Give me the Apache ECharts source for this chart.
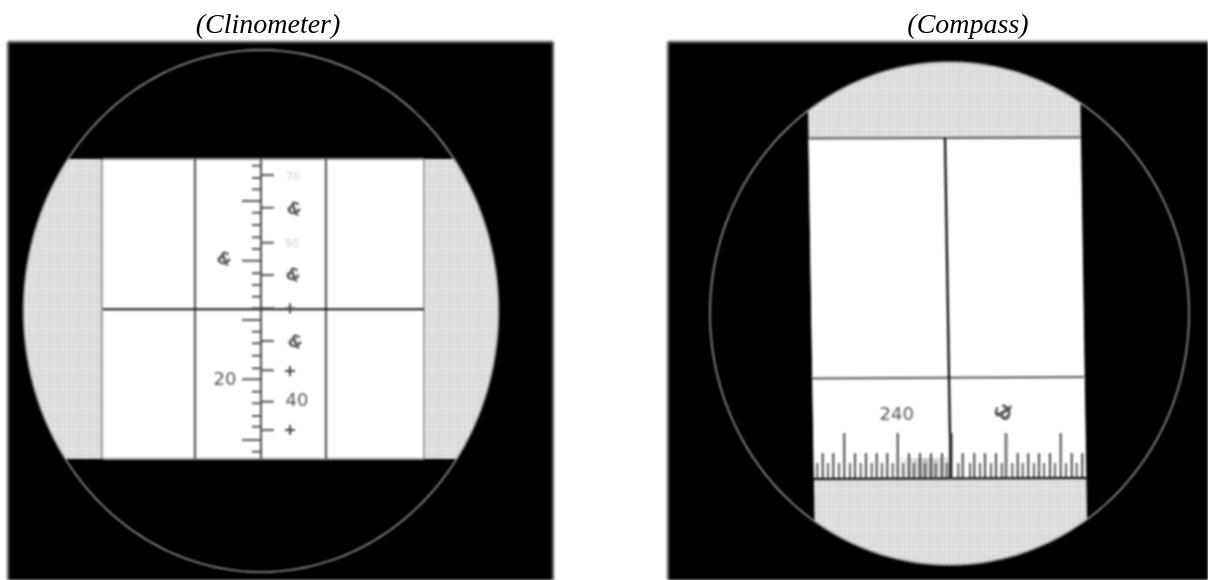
<!DOCTYPE html>
<html><head><meta charset="utf-8">
<script src="https://cdn.jsdelivr.net/npm/echarts@6/dist/echarts.min.js"></script>
<style>html,body{margin:0;padding:0;background:#fff;width:1208px;height:580px;overflow:hidden}
#art,#cap{position:absolute;left:0;top:0;width:1208px;height:580px}
#art{filter:blur(0.9px)}</style></head><body>
<div id="art"></div><div id="cap"></div>
<script>
// ---- values (image units on both axes)
const titles = [["(Clinometer)",268,26],["(Compass)",968,26]];
const clinoPanel = [[8,42],[553,42],[553,582],[8,582]];
const compassPanel = [[668,42],[1212,42],[1212,582],[668,582]];
const clinoDisc = [261,311,237.5,261];
const compassDisc = [949.5,313.5,239.5,251.5];
const clinoMasks = [[[8,42],[553,42],[553,159],[8,159]],[[8,459],[553,459],[553,582],[8,582]]];
const compassMasks = [[[668,42],[807,42],[815.5,582],[668,582]],[[1079.5,42],[1212,42],[1212,582],[1088,582]]];
const clinoWhite = [[103,159],[424,159],[424,459],[103,459]];
const compassWhite = [[808.5,138.5],[1080.5,137.5],[1086,478.5],[814,479.5]];
const frameEdges = [[8,42,553,42],[8,42,8,582],[553,42,553,582],[668,42,1212,42],[668,42,668,582]];
const clinoRules = [[195,159,195,459],[326,159,326,459],[261,159,261,459],[103,309.3,424,309.3]];
const clinoEdges = [[103,159,424,159],[103,459,424,459],[102,159,102,459],[424,159,424,459]];
const clinoMinorY = [165.7,178,189.3,212.7,225,237.3,249,273.3,285,296.7,308.3,331.7,343.3,355.7,368.3,391.7,403.3,416,426.7,451.7];
const clinoMajorY = [201,260.7,320,379.3,440];
const clinoRightY = [175,207.7,242.7,275,308.3,341,370.3,401.7,430];
const clinoPlus = [[290,308.5],[290,371],[290,430]];
const clinoLabels = [["20",225,380.7,18,"#555",0],["40",297,401.7,18,"#555",0],["70",293,177,11,"#ccc",0],["50",292,244,11,"#ccc",0]];
const clinoBlobs = [[294,210],[293,276],[295,343],[224,260]];
const compassRules = [[808,138.5,1080.5,137.5],[811,378.5,1084,377],[814,479,1086.5,478],[945,138,950.7,479]];
const compassLongX = [844.3,897.7,1060.7];
const compassWideX = [950.7,1006];
const compassMidX = [822.7,833.3,855,866,876.7,887.3,909,920,931,942,962.7,974.3,985,996,1017.7,1028.3,1039,1050,1071.7,1082.3];
const compassShortX = [817.3,828,839,850,860.7,871.7,882,892.7,903.3,914,925,935.7,946.7,958.3,970,980,991,1001.7,1012.3,1022.7,1034,1044,1055,1066,1076.7];
const compassSmudge = [[895,458],[950,458],[950,477],[895,477]];
const compassLabels = [["240",896.7,415,18,"#555",0]];
const compassBlobs = [[1005,412]];

// ---- woven stipple for the graticule surround
function weave(){
  const c=document.createElement('canvas');c.width=c.height=20;
  const g=c.getContext('2d');g.fillStyle='#ebebeb';g.fillRect(0,0,20,20);
  g.fillStyle='#cdcdcd';
  [0,4,9,13,17].forEach(i=>{g.fillRect(i,0,1,20);});
  [2,6,11,15,18].forEach(i=>{g.fillRect(0,i,20,1);});
  return c;
}
const weaveFill={image:weave(),repeat:'repeat'};
const smudgeFill={type:'linear',x:0,y:0,x2:1,y2:0,colorStops:[{offset:0,color:'rgba(150,150,150,0)'},{offset:0.55,color:'rgba(150,150,150,0.55)'},{offset:1,color:'rgba(150,150,150,0.2)'}]};

function polys(list,fill){return{type:'custom',coordinateSystem:'cartesian2d',clip:false,silent:true,
  data:list.map((_,i)=>[i]),encode:{x:0,y:0},
  renderItem:(p,api)=>({type:'polygon',shape:{points:list[api.value(0)].map(q=>api.coord(q))},style:{fill:fill}})};}
function segs(list,stroke,lw){return{type:'custom',coordinateSystem:'cartesian2d',clip:false,silent:true,
  data:list,encode:{x:[0,2],y:[1,3]},
  renderItem:(p,api)=>{const a=api.coord([api.value(0),api.value(1)]),b=api.coord([api.value(2),api.value(3)]);
    return{type:'line',shape:{x1:a[0],y1:a[1],x2:b[0],y2:b[1]},style:{stroke:stroke,lineWidth:lw,fill:null}};}};}
function labels(list,family,style){return{type:'custom',coordinateSystem:'cartesian2d',clip:false,silent:true,
  data:list.map((_,i)=>[i]),encode:{x:0,y:0},
  renderItem:(p,api)=>{const l=list[api.value(0)],q=api.coord([l[1],l[2]]);
    return{type:'text',x:q[0],y:q[1],rotation:(l[5]||0)*Math.PI/180,style:{text:l[0],fill:l[4],align:'center',verticalAlign:'middle',
      font:(style?style+' ':'')+l[3]+'px '+family}};}};}
function ring(d){const pts=[];for(let i=0;i<360;i+=1.5){const t=i*Math.PI/180;pts.push([d[0]+d[2]*Math.cos(t),d[1]+d[3]*Math.sin(t)]);}return pts;}
function outline(d,stroke,lw){const pts=ring(d);return{type:'custom',coordinateSystem:'cartesian2d',clip:false,silent:true,
  data:[[0]],encode:{x:0,y:0},
  renderItem:(p,api)=>({type:'polygon',shape:{points:pts.map(q=>api.coord(q))},style:{fill:null,stroke:stroke,lineWidth:lw}})};}
const vert=(xs,y0,y1)=>xs.map(x=>[x,y0,x,y1]);
const horz=(ys,x0,x1)=>ys.map(y=>[x0,y,x1,y]);
const plusSegs=clinoPlus.flatMap(p=>[[p[0]-5,p[1],p[0]+5,p[1]],[p[0],p[1]-5,p[0],p[1]+5]]);
const axes={grid:{left:0,right:0,top:0,bottom:0},
  xAxis:{type:'value',min:0,max:1208,show:false},
  yAxis:{type:'value',min:0,max:580,inverse:true,show:false}};

const art=echarts.init(document.getElementById('art'),null,{renderer:'canvas'});
art.setOption(Object.assign({animation:false,backgroundColor:'#fff',series:[
  polys([clinoPanel,compassPanel],'#000'),
  polys([ring(clinoDisc),ring(compassDisc)],weaveFill),
  polys(clinoMasks.concat(compassMasks),'#000'),
  outline(clinoDisc,'#999',1.6),
  outline(compassDisc,'#999',1.6),
  segs(frameEdges,'#666',2.4),
  polys([clinoWhite,compassWhite],'#fff'),
  segs(clinoEdges,'#999',1.8),
  segs(clinoRules.slice(0,3),'#444',1.9),
  segs(clinoRules.slice(3),'#111',2),
  segs(horz(clinoMinorY,252,261),'#444',1.8),
  segs(horz(clinoMajorY,242,261),'#444',1.8),
  segs(horz(clinoRightY,261,274),'#444',1.8),
  segs(plusSegs,'#444',2),
  labels(clinoLabels,'"DejaVu Sans"',''),
  labels(clinoBlobs.map(b=>['&',b[0],b[1],17,'#555',-20]),'"DejaVu Sans"','bold'),
  polys([compassSmudge],smudgeFill),
  segs(vert(compassShortX,463,478),'#444',1.7),
  segs(vert(compassMidX,453,478),'#333',1.8),
  segs(vert(compassLongX,433,478),'#333',1.8),
  segs(vert(compassWideX.slice(1),433,478),'#777',3),
  segs(compassRules.slice(0,2),'#555',1.8),
  segs(compassRules.slice(2),'#000',2.2),
  segs(vert(compassWideX.slice(0,1),433,479),'#222',3.4),
  labels(compassLabels,'"DejaVu Sans"',''),
  labels(compassBlobs.map(b=>['&',b[0],b[1],21,'#555',80]),'"DejaVu Sans"','bold')
]},axes));

const cap=echarts.init(document.getElementById('cap'),null,{renderer:'canvas'});
cap.setOption(Object.assign({animation:false,backgroundColor:'transparent',series:[
  labels(titles.map(t=>[t[0],t[1],t[2],28,'#000',0]),'"Liberation Serif"','italic')
]},axes));
</script></body></html>
